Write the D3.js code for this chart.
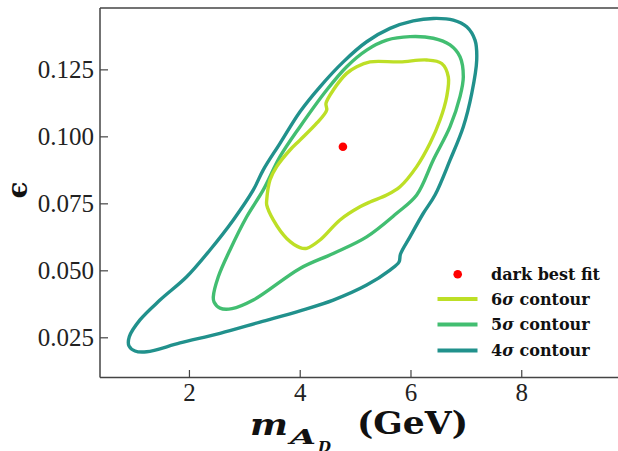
<!DOCTYPE html>
<html>
<head>
<meta charset="utf-8">
<script src="https://cdn.jsdelivr.net/npm/d3@7"></script>
<style>
  html, body { margin: 0; padding: 0; background: #fff; }
  svg { display: block; }
</style>
</head>
<body>
<div id="chart"></div>
<script>
// ---- data (m_AD in GeV, epsilon) ----
const xTicks = [2, 4, 6, 8];
const yTicks = [0.025, 0.050, 0.075, 0.100, 0.125];
const yTickLabels = ["0.025", "0.050", "0.075", "0.100", "0.125"];

const bestFit = [4.78, 0.0961];

const contour6 = [
  [3.404, 0.0762], [3.463, 0.0837], [3.584, 0.0887], [3.824, 0.0949], [4.005, 0.0986],
  [4.307, 0.1049], [4.487, 0.1098], [4.474, 0.1123], [4.606, 0.1173], [4.848, 0.1235],
  [5.029, 0.1260], [5.269, 0.1278], [5.811, 0.1278], [6.293, 0.1285], [6.564, 0.1272],
  [6.683, 0.1222], [6.654, 0.1148], [6.533, 0.1061], [6.353, 0.0974], [6.112, 0.0887],
  [5.811, 0.0812], [5.571, 0.0781], [5.269, 0.0755], [5.088, 0.0737], [4.727, 0.0688],
  [4.366, 0.0613], [4.126, 0.0582], [4.005, 0.0585], [3.765, 0.0619], [3.523, 0.0688],
  [3.404, 0.0744]
];

const contour5 = [
  [2.440, 0.0401], [2.530, 0.0476], [2.741, 0.0576], [3.043, 0.0700], [3.342, 0.0800],
  [3.644, 0.0924], [4.005, 0.1036], [4.487, 0.1173], [4.848, 0.1260], [5.209, 0.1322],
  [5.571, 0.1359], [5.991, 0.1372], [6.412, 0.1366], [6.714, 0.1341], [6.894, 0.1297],
  [6.954, 0.1222], [6.894, 0.1148], [6.714, 0.1036], [6.412, 0.0912], [6.112, 0.0781],
  [5.751, 0.0713], [5.209, 0.0625], [4.606, 0.0563], [4.005, 0.0507], [3.162, 0.0389],
  [2.777, 0.0357], [2.561, 0.0359], [2.453, 0.0382]
];

const contour4 = [
  [0.923, 0.0252], [1.116, 0.0315], [1.477, 0.0389], [1.959, 0.0476], [2.380, 0.0576],
  [2.801, 0.0688], [3.162, 0.0800], [3.342, 0.0875], [3.644, 0.0974], [4.005, 0.1092],
  [4.366, 0.1185], [4.787, 0.1278], [5.209, 0.1353], [5.630, 0.1403], [6.051, 0.1431],
  [6.412, 0.1440], [6.773, 0.1434], [7.015, 0.1409], [7.165, 0.1359], [7.196, 0.1285],
  [7.106, 0.1160], [6.954, 0.1036], [6.714, 0.0911], [6.443, 0.0781], [6.232, 0.0713],
  [5.991, 0.0625], [5.820, 0.0561], [5.793, 0.0531], [5.630, 0.0501], [5.209, 0.0445],
  [4.606, 0.0389], [4.005, 0.0349], [3.283, 0.0307], [2.561, 0.0265], [1.839, 0.0229],
  [1.237, 0.0196], [1.026, 0.0199], [0.917, 0.0218]
];

const seriesNames = ["6σ contour", "5σ contour", "4σ contour"];
const seriesColors = ["#bddf26", "#42be71", "#21918c"];

// ---- layout ----
const W = 618, H = 451;
const mLeft = 100, mTop = 8, mRight = 620, mBottom = 377.5;

const svg = d3.select("#chart").append("svg").attr("width", W).attr("height", H);

const x = d3.scaleLinear().domain([0.394, 9.783]).range([mLeft, mRight]);
const y = d3.scaleLinear().domain([0.0100, 0.1479]).range([mBottom, mTop]);

const line = d3.line().x(d => x(d[0])).y(d => y(d[1])).curve(d3.curveCatmullRomClosed.alpha(0.5));

const contours = [contour6, contour5, contour4];
[2, 1, 0].forEach(i => {
  svg.append("path").datum(contours[i]).attr("d", line)
    .attr("fill", "none").attr("stroke", seriesColors[i]).attr("stroke-width", 3.4)
    .attr("stroke-linejoin", "round");
});

svg.append("circle").attr("cx", x(bestFit[0])).attr("cy", y(bestFit[1])).attr("r", 4.3).attr("fill", "red");

// ---- axes ----
const spine = "#444";
const xAxis = d3.axisBottom(x).tickValues(xTicks).tickSize(-7.5).tickPadding(13).tickFormat(d3.format("d"));
const gx = svg.append("g").attr("transform", `translate(0,${mBottom})`).call(xAxis);
const yAxis = d3.axisLeft(y).tickValues(yTicks).tickSize(-8).tickPadding(6).tickFormat((d, i) => yTickLabels[i]);
const gy = svg.append("g").attr("transform", `translate(${mLeft},0)`).call(yAxis);

[gx, gy].forEach(g => {
  g.attr("font-family", null).attr("font-size", null);
  g.select(".domain").remove();
  g.selectAll(".tick line").attr("stroke", spine).attr("stroke-width", 1.2);
  g.selectAll(".tick text")
    .style("font-family", "'Liberation Serif', 'Times New Roman', serif")
    .style("font-size", "25px").attr("fill", "#222");
});
gx.selectAll(".tick text").attr("dy", "0.71em").attr("y", 6);
gy.selectAll(".tick text").attr("x", -6).attr("dy", "0.34em");

// spines
svg.append("line").attr("x1", mLeft).attr("x2", mLeft).attr("y1", mTop).attr("y2", mBottom).attr("stroke", spine).attr("stroke-width", 1.5);
svg.append("line").attr("x1", mLeft).attr("x2", W).attr("y1", mBottom).attr("y2", mBottom).attr("stroke", spine).attr("stroke-width", 1.5);
svg.append("line").attr("x1", mLeft).attr("x2", W).attr("y1", mTop).attr("y2", mTop).attr("stroke", spine).attr("stroke-width", 1.5);

// ---- axis labels ----
svg.append("text").attr("transform", "translate(27,190) rotate(-90)")
  .attr("text-anchor", "middle").style("font-family", "'DejaVu Serif', serif").attr("font-weight", "bold")
  .style("font-size", "28px").attr("fill", "#111").text("ϵ");

const xl = svg.append("g").style("font-family", "'DejaVu Serif', serif").attr("font-weight", "bold").attr("fill", "#111");
xl.append("text").attr("x", 250).attr("y", 435).style("font-size", "30px").attr("font-style", "italic")
  .attr("textLength", 38).attr("lengthAdjust", "spacingAndGlyphs").text("m");
xl.append("text").attr("x", 290).attr("y", 444).style("font-size", "21px").attr("font-style", "italic")
  .attr("textLength", 26).attr("lengthAdjust", "spacingAndGlyphs").text("A");
xl.append("text").attr("x", 318).attr("y", 452).style("font-size", "15px").attr("font-style", "italic").text("D");
xl.append("text").attr("x", 357).attr("y", 434).style("font-size", "31px")
  .attr("textLength", 111).attr("lengthAdjust", "spacingAndGlyphs").text("(GeV)");

// ---- legend ----
const lg = svg.append("g").style("font-family", "'DejaVu Serif', serif").attr("font-weight", "bold").style("font-size", "16px").attr("fill", "#111");
lg.append("circle").attr("cx", 457.7).attr("cy", 274.3).attr("r", 4.3).attr("fill", "red");
lg.append("text").attr("x", 491).attr("y", 279.5).text("dark best fit");
const legY = [299, 324.5, 350.5];
seriesNames.forEach((name, i) => {
  lg.append("line").attr("x1", 437.5).attr("x2", 477.5).attr("y1", legY[i]).attr("y2", legY[i])
    .attr("stroke", seriesColors[i]).attr("stroke-width", 4);
  const t = lg.append("text").attr("x", 491).attr("y", legY[i] + 5.5);
  t.append("tspan").text(name[0]);
  t.append("tspan").attr("font-style", "italic").text("σ");
  t.append("tspan").text(name.slice(2));
});
</script>
</body>
</html>
